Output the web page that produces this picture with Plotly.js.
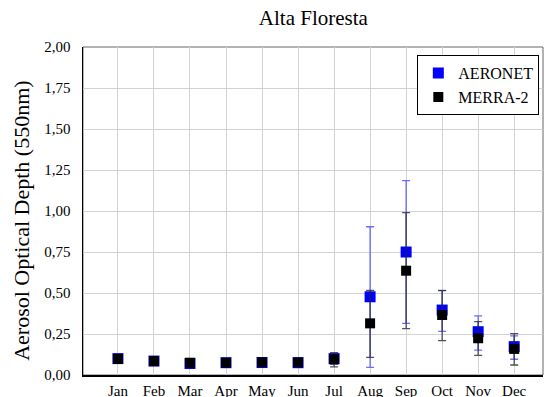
<!DOCTYPE html>
<html>
<head>
<meta charset="utf-8">
<script src="https://cdn.plot.ly/plotly-3.0.1.min.js"></script>
<style>html,body{margin:0;padding:0;background:#fff;}</style>
</head>
<body>
<div id="chart" style="width:545px;height:397px;"></div>
<script>
const months = ["Jan","Feb","Mar","Apr","May","Jun","Jul","Aug","Sep","Oct","Nov","Dec"];
const aeronet = [0.10, 0.085, 0.07, 0.075, 0.076, 0.075, 0.10, 0.477, 0.75, 0.396, 0.264, 0.173];
const aeronetErrPlus = [0.02, 0.015, 0.012, 0.01, 0.01, 0.01, 0.025, 0.427, 0.435, 0.12, 0.096, 0.065];
const aeronetErrMinus = [0.02, 0.015, 0.012, 0.01, 0.01, 0.01, 0.035, 0.43, 0.435, 0.13, 0.112, 0.077];
const merra = [0.098, 0.085, 0.075, 0.075, 0.078, 0.077, 0.096, 0.315, 0.636, 0.366, 0.224, 0.159];
const merraErrPlus = [0.015, 0.012, 0.01, 0.01, 0.01, 0.01, 0.04, 0.201, 0.354, 0.148, 0.101, 0.093];
const merraErrMinus = [0.015, 0.012, 0.01, 0.01, 0.01, 0.01, 0.046, 0.207, 0.353, 0.156, 0.104, 0.098];
const yTitle = "Aerosol Optical Depth (550nm)";

const font = '"Liberation Serif", "Times New Roman", serif';
const traces = [
  {
    x: months, y: aeronet, name: "AERONET", type: "scatter", mode: "markers",
    marker: {symbol: "square", size: 11, color: "#0000ff"},
    error_y: {type: "data", symmetric: false, array: aeronetErrPlus, arrayminus: aeronetErrMinus,
      color: "rgba(60,60,255,0.75)", thickness: 1.3, width: 4}
  },
  {
    x: months, y: merra, name: "MERRA-2", type: "scatter", mode: "markers",
    marker: {symbol: "square", size: 10, color: "#000000"},
    error_y: {type: "data", symmetric: false, array: merraErrPlus, arrayminus: merraErrMinus,
      color: "rgba(40,40,40,0.8)", thickness: 1.3, width: 4}
  }
];

const layout = {
  width: 545, height: 397,
  margin: {l: 83, r: 2, t: 47, b: 22},
  paper_bgcolor: "#fff", plot_bgcolor: "#fff",
  font: {family: font, color: "#000", size: 15},
  separators: ",.",
  title: {text: "Alta Floresta", font: {family: font, size: 21, color: "#000"}, x: 0.575, xanchor: "center", y: 0.955, yanchor: "middle"},
  xaxis: {
    type: "category", range: [-0.97, 11.8],
    showgrid: true, gridcolor: "#d2d2d2", gridwidth: 1,
    showline: true, linecolor: "#000", linewidth: 1.5, mirror: false,
    ticks: "", tickfont: {family: font, size: 15}, zeroline: false,
    ticklabelstandoff: 1
  },
  yaxis: {
    range: [0, 2], tick0: 0, dtick: 0.25, tickformat: ".2f",
    showgrid: true, gridcolor: "#d2d2d2", gridwidth: 1,
    showline: true, linecolor: "#000", linewidth: 1.5, mirror: false,
    ticks: "", tickfont: {family: font, size: 15}, zeroline: false,
    ticklabelstandoff: 8
  },
  annotations: [
    {text: yTitle, xref: "paper", yref: "paper", x: -0.1326, y: 0.47, xanchor: "center", yanchor: "middle",
     textangle: -90, showarrow: false, font: {family: font, size: 22, color: "#000"}}
  ],
  shapes: [
    {type: "rect", xref: "paper", yref: "paper", x0: 0, x1: 1, y0: 0, y1: 1, line: {color: "#666", width: 1}, layer: "below"}
  ],
  legend: {
    x: 0.992, xanchor: "right", y: 0.975, yanchor: "top",
    bgcolor: "#fff", bordercolor: "#000", borderwidth: 1,
    font: {family: font, size: 16}, itemwidth: 30, tracegroupgap: 0
  },
  showlegend: true
};

Plotly.newPlot("chart", traces, layout, {displayModeBar: false, staticPlot: true});
</script>
</body>
</html>
